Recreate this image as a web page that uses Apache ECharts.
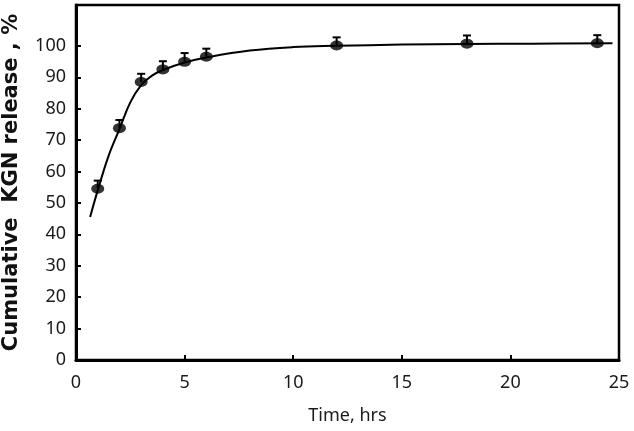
<!DOCTYPE html>
<html>
<head>
<meta charset="utf-8">
<script src="https://cdn.jsdelivr.net/npm/echarts@6/dist/echarts.min.js"></script>
<style>
  html, body { margin: 0; padding: 0; background: #fff; }
  #chart { width: 634px; height: 431px; }
</style>
</head>
<body>
<div id="chart"></div>
<script>
// measured release points
var times = [1, 2, 3, 4, 5, 6, 12, 18, 24];
var release = [54.5, 73.8, 88.5, 92.5, 94.9, 96.5, 100.1, 100.7, 100.8];
var errors = [2.6, 2.6, 2.6, 2.6, 2.8, 2.6, 2.6, 2.6, 2.6];

// fitted curve
var fitX = [0.65, 1, 1.5, 2, 2.5, 3, 3.5, 4, 5, 6, 8, 10, 12, 15, 18, 21, 24.7];
var fitY = [45.5, 54, 65, 73.5, 82, 87.5, 90.5, 92.3, 94.7, 96.3, 98.5, 99.6, 100, 100.4, 100.6, 100.7, 100.8];

var yTicks = [0, 10, 20, 30, 40, 50, 60, 70, 80, 90, 100];
var xTicks = [0, 5, 10, 15, 20, 25];

var chartDom = document.getElementById('chart');
var myChart = echarts.init(chartDom);

var labelFont = { color: '#1a1a1a', fontFamily: 'Noto Sans', fontSize: 18 };

var option = {
  animation: false,
  grid: {
    left: 76, right: 15, top: 5, bottom: 71,
    outerBoundsMode: 'none',
    show: true, borderColor: '#000', borderWidth: 2.5
  },
  xAxis: {
    type: 'value',
    min: 0, max: 25, interval: 5,
    name: 'Time, hrs',
    nameLocation: 'middle',
    nameGap: 47,
    nameTextStyle: { color: '#1a1a1a', fontFamily: 'Noto Sans', fontSize: 18 },
    axisLine: { show: true, lineStyle: { color: '#000', width: 3 } },
    axisTick: { show: true, inside: true, length: 5, lineStyle: { color: '#000', width: 2 }, customValues: xTicks },
    axisLabel: Object.assign({ margin: 14, customValues: xTicks }, labelFont),
    splitLine: { show: false }
  },
  yAxis: {
    type: 'value',
    min: 0, max: 113,
    name: 'Cumulative  KGN release , %',
    nameLocation: 'middle',
    nameGap: 54,
    nameTextStyle: { color: '#111', fontFamily: 'DejaVu Sans', fontSize: 21, fontWeight: 'bold' },
    axisLine: { show: true, lineStyle: { color: '#000', width: 3 } },
    axisTick: { show: true, inside: true, length: 5, lineStyle: { color: '#000', width: 2 }, customValues: yTicks },
    axisLabel: Object.assign({ margin: 10, customValues: yTicks }, labelFont),
    splitLine: { show: false }
  },
  series: [
    {
      type: 'line',
      data: fitX.map(function (x, i) { return [x, fitY[i]]; }),
      smooth: 0.4,
      showSymbol: false,
      lineStyle: { color: '#000', width: 2 },
      z: 2
    },
    {
      type: 'custom',
      data: times.map(function (t, i) { return [t, release[i], errors[i]]; }),
      renderItem: function (params, api) {
        var x = api.value(0), y = api.value(1), e = api.value(2);
        var top = api.coord([x, y + e]);
        var mid = api.coord([x, y]);
        var style = { stroke: '#000', lineWidth: 2 };
        return {
          type: 'group',
          children: [
            { type: 'line', shape: { x1: top[0], y1: top[1], x2: mid[0], y2: mid[1] }, style: style },
            { type: 'line', shape: { x1: top[0] - 4, y1: top[1], x2: top[0] + 4, y2: top[1] }, style: style }
          ]
        };
      },
      z: 3
    },
    {
      type: 'scatter',
      data: times.map(function (t, i) { return [t, release[i]]; }),
      symbol: 'circle',
      symbolSize: [13, 10],
      itemStyle: { color: '#000' },
      z: 4
    }
  ]
};

myChart.setOption(option);
</script>
</body>
</html>
